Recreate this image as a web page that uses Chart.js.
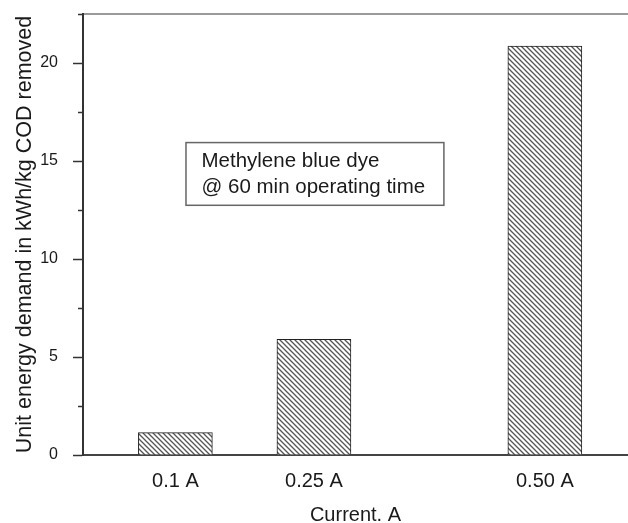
<!DOCTYPE html>
<html>
<head>
<meta charset="utf-8">
<script src="https://cdn.jsdelivr.net/npm/chart.js@4.4.1/dist/chart.umd.min.js"></script>
<style>
  html, body { margin: 0; padding: 0; background: #fff; }
  #wrap { width: 628px; height: 523px; position: relative; }
</style>
</head>
<body>
<div id="wrap"><canvas id="energyChart"></canvas></div>
<script>
const currents     = [0.1, 0.25, 0.5];
const currentLabels = ["0.1 A", "0.25 A", "0.50 A"];
const energyDemand = [1.14, 5.90, 20.86];
const noteLines    = ["Methylene blue dye", "@ 60 min operating time"];

const FONT = "'Liberation Sans', Arial, sans-serif";

// diagonal hatch fill like the original plot
function hatch() {
  const c = document.createElement("canvas");
  c.width = 5; c.height = 5;
  const g = c.getContext("2d");
  g.fillStyle = "#fff";
  g.fillRect(0, 0, 5, 5);
  g.strokeStyle = "#555";
  g.lineWidth = 1.3;
  g.beginPath();
  g.moveTo(-1, -1); g.lineTo(6, 6);
  g.moveTo(-6, -1); g.lineTo(1, 6);
  g.moveTo(4, -1);  g.lineTo(11, 6);
  g.stroke();
  return g.createPattern(c, "repeat");
}

const minorTicks = {
  id: "minorTicks",
  afterDraw(chart) {
    const y = chart.scales.y, ctx = chart.ctx;
    ctx.save();
    ctx.strokeStyle = "#333";
    ctx.lineWidth = 1.5;
    y.ticks.forEach(t => {
      if (t.value % 5 === 0) return;
      const py = Math.round(y.getPixelForValue(t.value)) + 0.5;
      ctx.beginPath();
      ctx.moveTo(y.right - 5, py);
      ctx.lineTo(y.right, py);
      ctx.stroke();
    });
    ctx.restore();
  }
};

const noteBox = {
  id: "noteBox",
  afterDraw(chart) {
    const { x, y } = chart.scales, ctx = chart.ctx;
    const left = x.getPixelForValue(0.1115), right = x.getPixelForValue(0.3907);
    const top = y.getPixelForValue(15.94), bottom = y.getPixelForValue(12.74);
    ctx.save();
    ctx.fillStyle = "#fff";
    ctx.fillRect(left, top, right - left, bottom - top);
    ctx.strokeStyle = "#666";
    ctx.lineWidth = 1.5;
    ctx.strokeRect(left, top, right - left, bottom - top);
    ctx.fillStyle = "#1a1a1a";
    ctx.font = "20.5px " + FONT;
    ctx.textBaseline = "alphabetic";
    ctx.fillText(noteLines[0], left + 15.5, top + 24.5);
    ctx.fillText(noteLines[1], left + 15.5, top + 50.5);
    ctx.restore();
  }
};

new Chart(document.getElementById("energyChart"), {
  type: "bar",
  data: {
    datasets: [{
      data: currents.map((c, i) => ({ x: c, y: energyDemand[i] })),
      backgroundColor: hatch(),
      borderColor: "#222",
      borderWidth: 1,
      barThickness: 74
    }]
  },
  options: {
    responsive: true,
    maintainAspectRatio: false,
    animation: false,
    layout: { padding: { top: 14, right: 0, left: 0, bottom: 0 } },
    plugins: { legend: { display: false }, tooltip: { enabled: false } },
    scales: {
      x: {
        type: "linear",
        min: 0,
        max: 0.59,
        offset: false,
        grid: { display: false, drawTicks: false },
        border: { display: true, color: "#444", width: 2 },
        afterBuildTicks: axis => { axis.ticks = currents.map(v => ({ value: v })); },
        ticks: {
          padding: 14,
          maxRotation: 0,
          autoSkip: false,
          color: "#1a1a1a",
          font: { family: FONT, size: 20 },
          callback: v => currentLabels[currents.indexOf(v)]
        },
        title: {
          display: true,
          text: "Current. A",
          color: "#1a1a1a",
          font: { family: FONT, size: 20, lineHeight: 0.8 },
          padding: { top: 0, bottom: 0 }
        }
      },
      x2: {
        type: "linear",
        position: "top",
        min: 0,
        max: 1,
        grid: { display: false, drawTicks: false },
        border: { display: true, color: "#9a9a9a", width: 2 },
        ticks: { display: false }
      },
      y: {
        min: 0,
        max: 22.5,
        afterFit: axis => {
          axis.width = 83;
          axis.paddingTop = 0;
          axis.paddingBottom = 0;
        },
        grid: {
          drawOnChartArea: false,
          tickLength: 10,
          tickWidth: 1.5,
          tickColor: c => (c.tick && c.tick.value % 5 === 0 ? "#333" : "rgba(0,0,0,0)")
        },
        border: { display: true, color: "#333", width: 2 },
        ticks: {
          stepSize: 2.5,
          padding: 15,
          color: "#1a1a1a",
          font: { family: FONT, size: 16 },
          callback: v => (v % 5 === 0 ? v : "")
        },
        title: {
          display: true,
          text: "Unit energy demand in kWh/kg COD removed",
          color: "#1a1a1a",
          font: { family: FONT, size: 21.5, lineHeight: 1.2 },
          padding: { top: 12, bottom: 3 }
        }
      }
    }
  },
  plugins: [minorTicks, noteBox]
});
</script>
</body>
</html>
